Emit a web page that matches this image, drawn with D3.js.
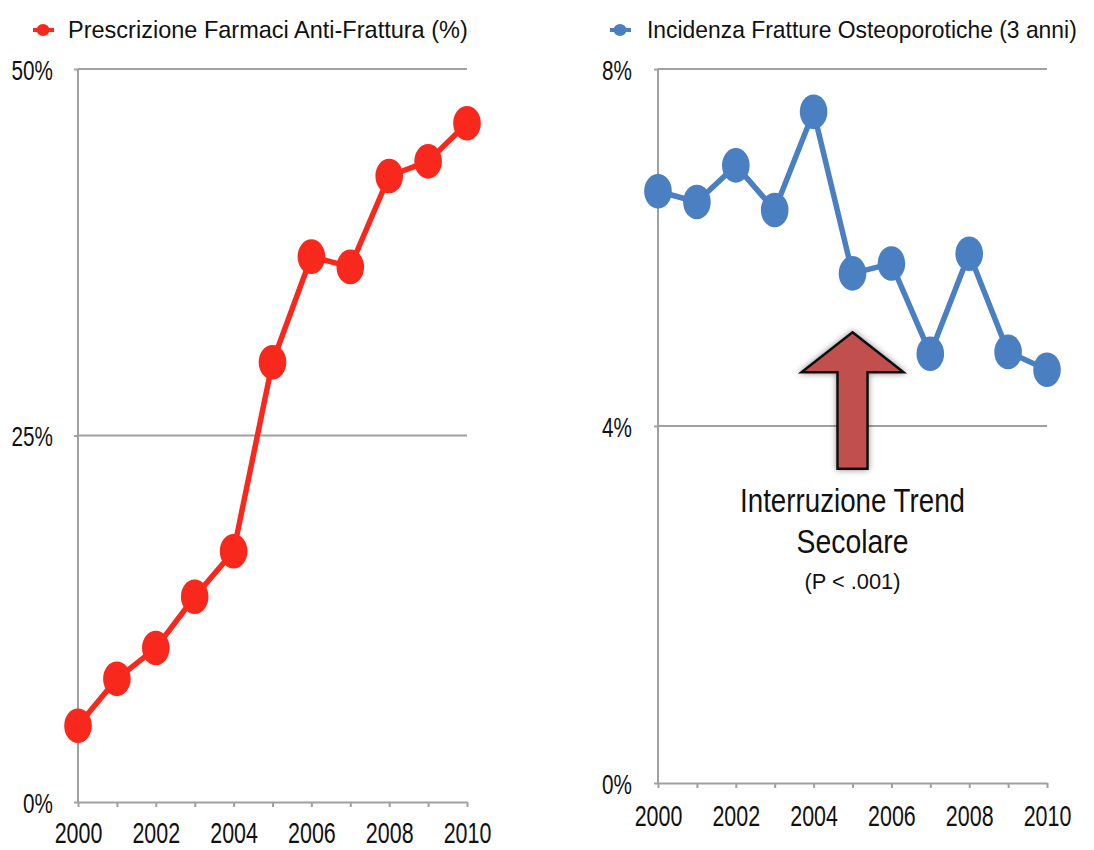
<!DOCTYPE html>
<html>
<head>
<meta charset="utf-8">
<script src="https://cdn.jsdelivr.net/npm/d3@7"></script>
<style>
    body { margin: 0; background: #fff; }
    svg { display: block; font-family: "Liberation Sans", Arial, sans-serif; }
    .axis path, .axis line { stroke: #a0a0a0; stroke-width: 2px; }
    .axis text { fill: #111; }
    .grid { stroke: #a0a0a0; stroke-width: 2px; }
</style>
</head>
<body>
<script>
    // data
    var years = [2000, 2001, 2002, 2003, 2004, 2005, 2006, 2007, 2008, 2009, 2010];
    var prescrizione = [5.2, 8.4, 10.5, 14.0, 17.1, 30.0, 37.2, 36.5, 42.7, 43.7, 46.3];
    var incidenza = [6.63, 6.51, 6.92, 6.42, 7.52, 5.71, 5.82, 4.81, 5.93, 4.83, 4.63];
    var yearLabels = [2000, 2002, 2004, 2006, 2008, 2010];
    var leftTicks = [0, 25, 50];
    var rightTicks = [0, 4, 8];
    var titles = ["Prescrizione Farmaci Anti-Frattura (%)", "Incidenza Fratture Osteoporotiche (3 anni)"];
    var noteLines = ["Interruzione Trend", "Secolare", "(P < .001)"];

    var W = 1094, H = 850;
    var sx = 0.74;  // reference is squeezed horizontally

    var svg = d3.select("body").append("svg")
        .attr("width", W)
        .attr("height", H);

    var defs = svg.append("defs");
    defs.append("filter").attr("id", "shadow")
        .attr("x", "-30%").attr("y", "-30%").attr("width", "160%").attr("height", "160%")
        .append("feDropShadow")
        .attr("dx", 0).attr("dy", 0)
        .attr("stdDeviation", 3)
        .attr("flood-color", "#000")
        .attr("flood-opacity", 0.45);

    // squeezed text: fits the string into width w inside a scaled group
    function squeezed(parent, str, x, y, w, size, anchor) {
        var g = parent.append("g");
        var t = g.append("text")
            .attr("text-anchor", anchor || "start")
            .attr("fill", "#111")
            .style("font-size", size + "px")
            .text(str);
        var k = w / t.node().getComputedTextLength();
        g.attr("transform", "translate(" + x + "," + y + ") scale(" + k + ",1)");
        return g;
    }

    var panels = [
        {
            values: prescrizione, ticks: leftTicks, max: 50, color: "#f8281c",
            x0: 78, x1: 467, yTop: 69, yBot: 802, labelGap: 25, xLabelY: 41,
            title: titles[0], titleX: 68, titleW: 400, legendX: 43
        },
        {
            values: incidenza, ticks: rightTicks, max: 8, color: "#4a7fc1",
            x0: 658, x1: 1047, yTop: 69, yBot: 783, labelGap: 26, xLabelY: 43,
            title: titles[1], titleX: 647, titleW: 430, legendX: 620
        }
    ];

    panels.forEach(function (p) {
        var x = d3.scaleLinear().domain([2000, 2010]).range([p.x0, p.x1]);
        var y = d3.scaleLinear().domain([0, p.max]).range([p.yBot, p.yTop]);
        p.x = x; p.y = y;

        var g = svg.append("g");

        // gridlines
        g.selectAll(".grid")
            .data(p.ticks.filter(function (d) { return d > 0; }))
            .enter().append("line")
            .attr("class", "grid")
            .attr("x1", x(2000)).attr("x2", x(2010))
            .attr("y1", function (d) { return y(d); })
            .attr("y2", function (d) { return y(d); });

        // y axis
        var yAxis = g.append("g")
            .attr("class", "axis")
            .attr("transform", "translate(" + x(2000) + ",0)")
            .call(d3.axisLeft(y).tickValues(p.ticks).tickSize(4).tickSizeOuter(0)
                .tickFormat(function (d) { return d + "%"; }));
        yAxis.select(".domain").remove();
        yAxis.append("line")
            .attr("y1", y(0)).attr("y2", y(p.max))
            .attr("stroke", "#a0a0a0").attr("stroke-width", 2);
        yAxis.selectAll("text")
            .attr("x", -p.labelGap / sx)
            .attr("dy", "0.36em")
            .attr("transform", "scale(" + sx + ",1)")
            .style("font-size", "28px");

        // x axis
        var xAxis = g.append("g")
            .attr("class", "axis")
            .attr("transform", "translate(0," + y(0) + ")")
            .call(d3.axisBottom(x).tickValues(years).tickSize(5).tickSizeOuter(0)
                .tickFormat(function (d) { return yearLabels.indexOf(d) >= 0 ? d : ""; }));
        xAxis.selectAll("text")
            .attr("y", p.xLabelY)
            .attr("dy", 0)
            .attr("transform", "scale(" + sx + ",1)")
            .style("font-size", "29px");

        // line
        var line = d3.line()
            .x(function (d, j) { return x(years[j]); })
            .y(function (d) { return y(d); });

        g.append("path")
            .datum(p.values)
            .attr("d", line)
            .attr("fill", "none")
            .attr("stroke", p.color)
            .attr("stroke-width", 5.5)
            .attr("stroke-linejoin", "round");

        g.selectAll(".pt")
            .data(p.values)
            .enter().append("ellipse")
            .attr("class", "pt")
            .attr("cx", function (d, j) { return x(years[j]); })
            .attr("cy", function (d) { return y(d); })
            .attr("rx", 13.8)
            .attr("ry", 17.3)
            .attr("fill", p.color);

        // legend
        var lg = g.append("g").attr("transform", "translate(" + p.legendX + ",30)");
        lg.append("line")
            .attr("x1", -10).attr("x2", 11)
            .attr("stroke", p.color).attr("stroke-width", 4);
        lg.append("ellipse")
            .attr("rx", 6.5).attr("ry", 6)
            .attr("fill", p.color);

        squeezed(g, p.title, p.titleX, 38, p.titleW, 24);
    });

    // annotation arrow pointing at 2005 on the right chart
    var pr = panels[1];
    var ax = pr.x(2005);
    var tipY = pr.y(5.05), baseY = pr.y(3.52);
    var headY = tipY + 40;
    var arrow = [
        [ax, tipY], [ax + 51, headY], [ax + 15, headY], [ax + 15, baseY],
        [ax - 15, baseY], [ax - 15, headY], [ax - 51, headY]
    ];
    svg.append("path")
        .attr("d", "M" + arrow.join("L") + "Z")
        .attr("fill", "#c0504d")
        .attr("stroke", "#111")
        .attr("stroke-width", 2.5)
        .attr("stroke-linejoin", "miter")
        .attr("filter", "url(#shadow)");

    var noteStyle = [
        { y: 512, size: 34, w: 225 },
        { y: 553, size: 34, w: 112 },
        { y: 589, size: 22, w: 96 }
    ];
    var note = svg.append("g");
    noteLines.forEach(function (s, i) {
        squeezed(note, s, ax, noteStyle[i].y, noteStyle[i].w, noteStyle[i].size, "middle");
    });
</script>
</body>
</html>
